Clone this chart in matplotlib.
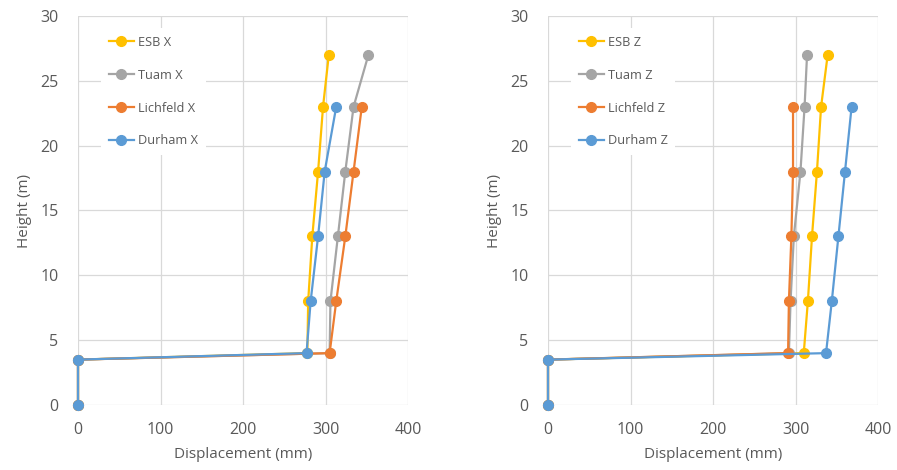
import matplotlib.pyplot as plt

heights_esb = [0, 3.5, 4, 8, 13, 18, 23, 27]
heights_short = [0, 3.5, 4, 8, 13, 18, 23]

esb_x = [0, 0, 278, 279, 284, 291, 297, 304]
tuam_x = [0, 0, 305, 306, 315, 324, 334, 352]
lichfeld_x = [0, 0, 305, 313, 324, 334, 344]
durham_x = [0, 0, 277, 282, 291, 299, 313]

esb_z = [0, 0, 310, 315, 320, 326, 331, 339]
tuam_z = [0, 0, 292, 294, 298, 306, 311, 314]
lichfeld_z = [0, 0, 291, 292, 295, 297, 297]
durham_z = [0, 0, 337, 344, 352, 360, 368]

colors = {'ESB': '#FFC000', 'Tuam': '#A5A5A5', 'Lichfeld': '#ED7D31', 'Durham': '#5B9BD5'}
txt = '#595959'

plt.rcParams['font.family'] = ['Open Sans', 'DejaVu Sans']

fig = plt.figure(figsize=(8.97, 4.70), dpi=100)
W, H = 897, 470


def panel(left, data, suffix):
    ax = fig.add_axes([left / W, 65 / H, 330 / W, 389 / H])
    for name, xs, ys in data:
        ax.plot(xs, ys, color=colors[name], lw=1.6, marker='o', ms=7,
                label=f'{name} {suffix}', clip_on=False, zorder=3)
    ax.set_xlim(0, 400)
    ax.set_ylim(0, 30)
    ax.set_xticks([0, 100, 200, 300, 400])
    ax.set_yticks([0, 5, 10, 15, 20, 25, 30])
    ax.grid(True, color='#D9D9D9', lw=0.9)
    ax.set_axisbelow(True)
    for s in ax.spines.values():
        s.set_visible(False)
    ax.tick_params(length=0, labelsize=11.5, colors=txt)
    ax.tick_params(axis='x', pad=12)
    ax.tick_params(axis='y', pad=14)
    ax.set_xlabel('Displacement (mm)', fontsize=11, color=txt, labelpad=7)
    ax.set_ylabel('Height (m)', fontsize=11, color=txt, labelpad=6)
    leg = ax.legend(loc='upper left', bbox_to_anchor=(0.05, 0.985), frameon=True,
                    facecolor='white', edgecolor='none', framealpha=1,
                    fontsize=9.2, labelspacing=1.55, handlelength=2.0,
                    handletextpad=0.3, borderpad=0.6)
    for t in leg.get_texts():
        t.set_color(txt)
    return ax


panel(78, [('ESB', esb_x, heights_esb), ('Tuam', tuam_x, heights_esb),
           ('Lichfeld', lichfeld_x, heights_short), ('Durham', durham_x, heights_short)], 'X')
panel(548, [('ESB', esb_z, heights_esb), ('Tuam', tuam_z, heights_esb),
            ('Lichfeld', lichfeld_z, heights_short), ('Durham', durham_z, heights_short)], 'Z')

fig.savefig('out.png', dpi=100)
